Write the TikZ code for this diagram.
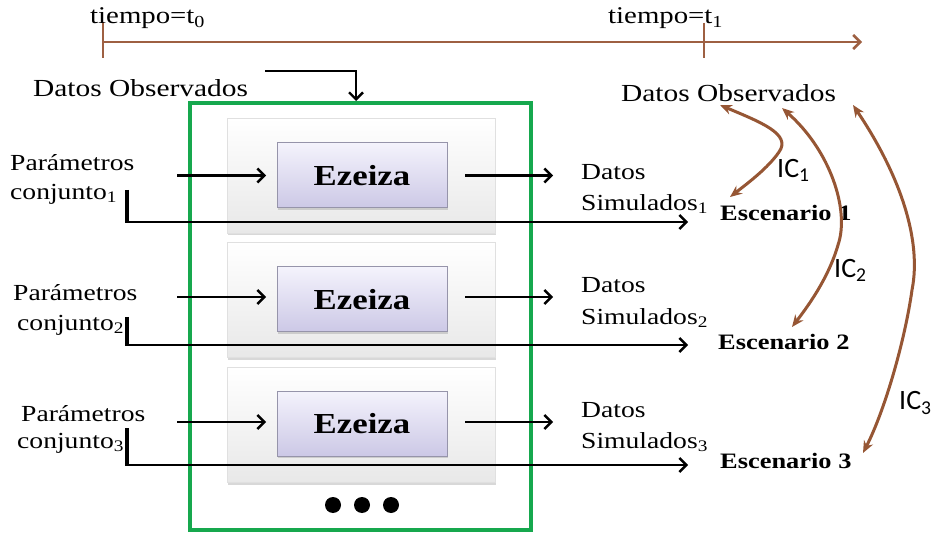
\documentclass[tikz,border=0pt]{standalone}
\usepackage{fontspec}
\setmainfont{Liberation Serif}[FakeStretch=1.2]
\newfontfamily\icfont{Carlito}
\usetikzlibrary{arrows.meta,shadows}

\definecolor{timebrown}{RGB}{158,96,66}
\definecolor{icbrown}{RGB}{150,86,52}
\definecolor{framegreen}{RGB}{22,168,78}
\definecolor{boxtop}{RGB}{244,243,252}
\definecolor{boxbottom}{RGB}{204,200,230}
\definecolor{boxedge}{RGB}{150,148,170}

\tikzset{
  txt/.style={inner sep=0pt, anchor=west, font=\fontsize{23}{26}\selectfont},
  obs/.style={inner sep=0pt, anchor=west, font=\fontsize{24.5}{28}\selectfont},
  esc/.style={inner sep=0pt, anchor=west, font=\fontsize{22}{24}\selectfont\bfseries},
  iclabel/.style={inner sep=0pt, anchor=west, font=\icfont\fontsize{28}{30}\selectfont},
  timeline/.style={draw=timebrown, line width=2.6pt},
  flow/.style={draw=black, line width=2.4pt, -{Straight Barb[length=7pt,width=14pt,line width=2.4pt]}},
  bar/.style={draw=black, line width=3.6pt},
  icarrow/.style={draw=icbrown, line width=3pt,
    {Stealth[length=12pt,width=10pt]}-{Stealth[length=12pt,width=10pt]}},
  panel/.style={draw=black!12, top color=white, bottom color=black!9,
    minimum width=268pt, minimum height=115pt, inner sep=0pt,
    drop shadow={opacity=0.3, shadow xshift=1pt, shadow yshift=-2.5pt}},
  model/.style={draw=boxedge, line width=1pt, top color=boxtop, bottom color=boxbottom,
    minimum width=170pt, minimum height=65pt, inner sep=0pt,
    font=\fontsize{29}{31}\selectfont\bfseries,
    drop shadow={opacity=0.3, shadow xshift=1pt, shadow yshift=-2pt}},
}

\begin{document}
\begin{tikzpicture}[x=1pt,y=-1pt]
\useasboundingbox (0,0) rectangle (932,537);
\fill[white] (0,0) rectangle (932,537);

% time axis
\coordinate (tstart) at (103,42);
\coordinate (tend) at (862,42);
\draw[timeline, -{Straight Barb[length=7pt,width=14pt,line width=2.6pt]}] (tstart) -- (tend);
\draw[timeline] (103,22) -- (103,58);
\draw[timeline] (704,23) -- (704,58);
\node[txt, font=\fontsize{24}{26}\selectfont] (t0) at (90,18) {tiempo=t\textsubscript{0}};
\node[txt, font=\fontsize{24}{26}\selectfont] (t1) at (608,18) {tiempo=t\textsubscript{1}};

% observed data
\node[obs] (obsL) at (33,88) {Datos Observados};
\node[obs] (obsR) at (621,93) {Datos Observados};

% simulation panels
\node[panel] (p1) at (361,175.5) {};
\node[panel] (p2) at (361,300) {};
\node[panel] (p3) at (361,425) {};
\node[model] (m1) at (362,175.5) {Ezeiza};
\node[model] (m2) at (362,299.5) {Ezeiza};
\node[model] (m3) at (362,423.5) {Ezeiza};

% green frame
\draw[draw=framegreen, line width=4.5pt] (190,103) rectangle (531,530);

% observed data into the frame
\coordinate (obsStart) at (265,71);
\coordinate (obsEnd) at (356,101);
\draw[flow] (obsStart) -| (obsEnd);

% parameter sets
\node[txt] (par1) at (10,163) {Parámetros};
\node[txt] (con1) at (10,194) {conjunto\textsubscript{1}};
\node[txt] (par2) at (13,293) {Parámetros};
\node[txt] (con2) at (17,325) {conjunto\textsubscript{2}};
\node[txt] (par3) at (21,414) {Parámetros};
\node[txt] (con3) at (17,443) {conjunto\textsubscript{3}};

% simulated data
\node[txt] (ds1) at (581,172) {Datos};
\node[txt] (sim1) at (581,204) {Simulados\textsubscript{1}};
\node[txt] (ds2) at (581,285) {Datos};
\node[txt] (sim2) at (581,318) {Simulados\textsubscript{2}};
\node[txt] (ds3) at (581,410) {Datos};
\node[txt] (sim3) at (581,442) {Simulados\textsubscript{3}};

% scenarios
\node[esc] (esc1) at (720,213) {Escenario 1};
\node[esc] (esc2) at (718,342) {Escenario 2};
\node[esc] (esc3) at (720,461) {Escenario 3};

% inputs and outputs of each run
\foreach \i/\y in {1/175.5,2/297,3/422}{
  \coordinate (in\i) at (177,\y);
  \coordinate (inEnd\i) at (266,\y);
  \coordinate (outStart\i) at (465,\y);
  \coordinate (out\i) at (553,\y);
  \draw[flow] (in\i) -- (inEnd\i);
  \draw[flow] (outStart\i) -- (out\i);
}

% parameter sets passed to the scenarios
\coordinate (b1top) at (127,190);
\coordinate (b1) at (127,222);
\coordinate (e1) at (688,222);
\coordinate (b2top) at (127,317);
\coordinate (b2) at (127,345);
\coordinate (e2) at (688,345);
\coordinate (b3top) at (127,428);
\coordinate (b3) at (127,465);
\coordinate (e3) at (688,465);
\foreach \i in {1,2,3}{
  \draw[bar] (b\i top) -- ([yshift=-1pt]b\i);
  \draw[flow] (b\i) -- (e\i);
}

% continuation dots
\foreach \x in {333,362,391}
  \fill[black] (\x,505) circle (8pt);

% comparison curves between scenarios and observations
\draw[icarrow] (720,105) .. controls (760,122) and (792,134) .. (779,152)
  .. controls (768,168) and (748,183) .. (730,197);
\draw[icarrow] (782,108) .. controls (830,150) and (850,210) .. (838,245)
  .. controls (828,280) and (805,310) .. (792,327);
\draw[icarrow] (853,105) .. controls (900,175) and (922,240) .. (912,290)
  .. controls (905,340) and (885,410) .. (863,453);
\node[iclabel] (ic1) at (777,170) {IC\textsubscript{1}};
\node[iclabel] (ic2) at (834,270) {IC\textsubscript{2}};
\node[iclabel] (ic3) at (899,403) {IC\textsubscript{3}};
\end{tikzpicture}
\end{document}
